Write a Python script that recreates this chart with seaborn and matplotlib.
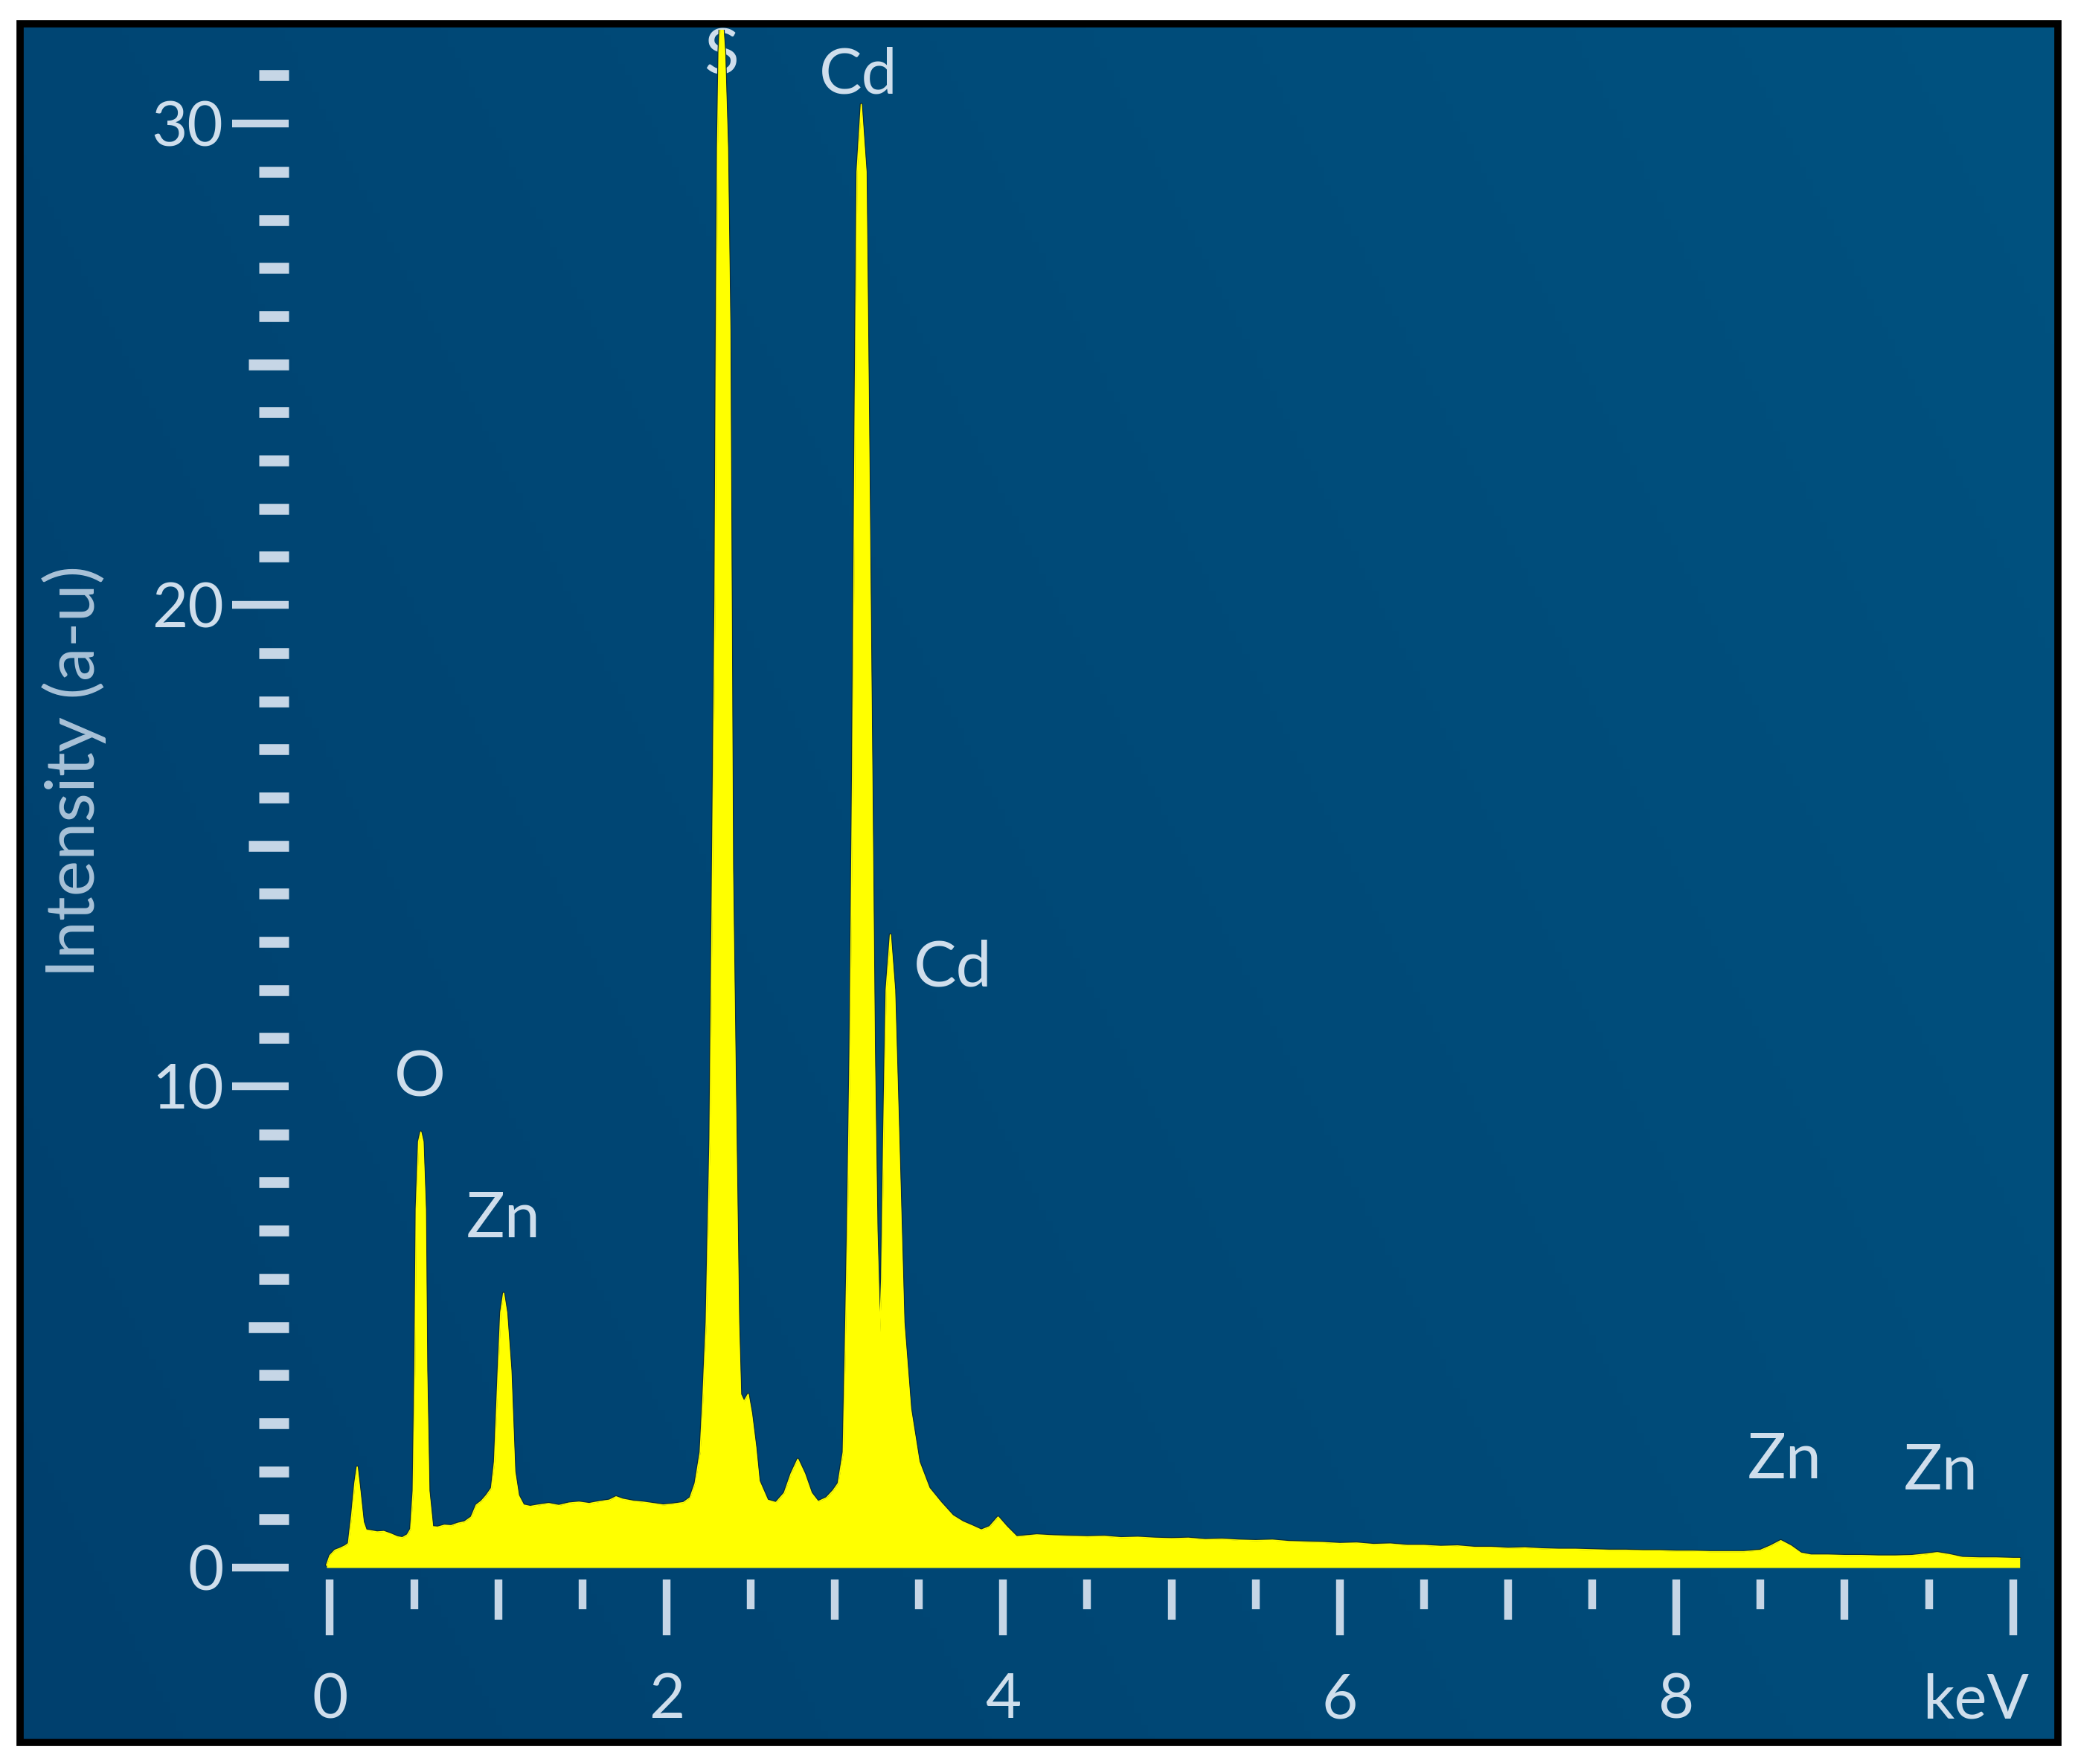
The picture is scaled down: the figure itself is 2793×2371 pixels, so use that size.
import numpy as np
import matplotlib
matplotlib.use("Agg")
import matplotlib.pyplot as plt
import matplotlib.transforms as mtransforms
from matplotlib.patches import Rectangle
import seaborn as sns

# ---------------- data ----------------
energy_kev = [
    -0.02, 0.00, 0.03, 0.06, 0.09, 0.11, 0.13, 0.148, 0.162, 0.178,
    0.198, 0.215, 0.25, 0.28, 0.32, 0.36, 0.40, 0.43, 0.46, 0.48,
    0.495, 0.505, 0.513, 0.527, 0.540, 0.553, 0.567, 0.575, 0.588, 0.61,
    0.64, 0.68, 0.72, 0.76, 0.80, 0.84, 0.87, 0.90, 0.93, 0.96,
    0.978, 1.000, 1.015, 1.032, 1.05, 1.075, 1.098, 1.12, 1.15, 1.19,
    1.24, 1.30, 1.36, 1.42, 1.48, 1.54, 1.60, 1.66, 1.70, 1.74,
    1.80, 1.86, 1.92, 1.98, 2.04, 2.10, 2.14, 2.17, 2.20, 2.215,
    2.236, 2.258, 2.273, 2.288, 2.296, 2.303, 2.312, 2.325, 2.345, 2.362,
    2.376, 2.384, 2.392, 2.413, 2.428, 2.44, 2.46, 2.485, 2.505, 2.53,
    2.55, 2.60, 2.65, 2.70, 2.74, 2.78, 2.82, 2.86, 2.90, 2.95,
    2.99, 3.02, 3.05, 3.062, 3.075, 3.09, 3.105, 3.12, 3.132, 3.157,
    3.185, 3.20, 3.22, 3.235, 3.25, 3.267, 3.278, 3.29, 3.305, 3.33,
    3.355, 3.38, 3.41, 3.45, 3.50, 3.56, 3.63, 3.70, 3.76, 3.82,
    3.87, 3.92, 3.97, 4.02, 4.08, 4.14, 4.20, 4.30, 4.40, 4.50,
    4.60, 4.70, 4.80, 4.90, 5.00, 5.10, 5.20, 5.30, 5.40, 5.50,
    5.60, 5.70, 5.80, 5.90, 6.00, 6.10, 6.20, 6.30, 6.40, 6.50,
    6.60, 6.70, 6.80, 6.90, 7.00, 7.10, 7.20, 7.30, 7.40, 7.50,
    7.60, 7.70, 7.80, 7.90, 8.00, 8.10, 8.20, 8.30, 8.40, 8.50,
    8.56, 8.62, 8.68, 8.74, 8.80, 8.90, 9.00, 9.10, 9.20, 9.30,
    9.40, 9.48, 9.55, 9.62, 9.70, 9.80, 9.90, 10.00, 10.04,
]
intensity = [
    0.05, 0.25, 0.36, 0.40, 0.45, 0.50, 1.10, 1.75, 2.09, 1.60,
    0.95, 0.78, 0.76, 0.74, 0.75, 0.70, 0.64, 0.62, 0.68, 0.80,
    1.60, 4.10, 7.45, 8.85, 9.05, 8.85, 7.45, 4.10, 1.60, 0.85,
    0.84, 0.88, 0.87, 0.92, 0.95, 1.05, 1.30, 1.38, 1.50, 1.65,
    2.20, 4.10, 5.30, 5.70, 5.30, 4.10, 2.00, 1.50, 1.30, 1.27,
    1.30, 1.33, 1.29, 1.34, 1.36, 1.33, 1.37, 1.40, 1.47, 1.42,
    1.38, 1.36, 1.33, 1.30, 1.32, 1.35, 1.45, 1.75, 2.40, 3.40,
    5.10, 8.90, 14.5, 20.1, 25.7, 29.5, 31.5, 32.5, 31.5, 29.5,
    25.7, 20.1, 14.5, 8.90, 5.10, 3.60, 3.45, 3.60, 3.20, 2.50,
    1.80, 1.40, 1.35, 1.55, 1.95, 2.25, 1.95, 1.55, 1.37, 1.45,
    1.60, 1.75, 2.40, 4.50, 7.00, 10.7, 16.4, 23.8, 29.0, 30.4,
    29.0, 23.8, 16.4, 10.7, 7.00, 4.90, 6.00, 8.90, 12.0, 13.15,
    12.0, 8.90, 5.10, 3.30, 2.20, 1.65, 1.35, 1.08, 0.95, 0.86,
    0.78, 0.85, 1.05, 0.85, 0.64, 0.66, 0.68, 0.66, 0.65, 0.64,
    0.65, 0.62, 0.63, 0.61, 0.60, 0.61, 0.58, 0.59, 0.57, 0.56,
    0.57, 0.54, 0.53, 0.52, 0.50, 0.51, 0.48, 0.49, 0.46, 0.46,
    0.44, 0.45, 0.42, 0.42, 0.40, 0.41, 0.39, 0.38, 0.38, 0.37,
    0.36, 0.36, 0.35, 0.35, 0.34, 0.34, 0.33, 0.33, 0.33, 0.36,
    0.45, 0.56, 0.45, 0.30, 0.26, 0.26, 0.25, 0.25, 0.24, 0.24,
    0.25, 0.28, 0.31, 0.27, 0.21, 0.20, 0.20, 0.19, 0.19,
]
assert len(energy_kev) == len(intensity)

peak_labels = ["S", "Cd", "Cd", "O", "Zn", "Zn", "Zn"]
peak_label_x = [2.327, 3.14, 3.70, 0.537, 1.03, 8.645, 9.57]
peak_label_y = [31.4, 31.0, 12.45, 10.17, 7.24, 2.23, 1.99]

y_major_ticks = [0, 10, 20, 30]
y_mid_ticks = [5, 15, 25]
y_minor_ticks = [1, 2, 3, 4, 6, 7, 8, 9, 11, 12, 13, 14, 16, 17, 18, 19,
                 21, 22, 23, 24, 26, 27, 28, 29, 31]
x_major_ticks = [0, 2, 4, 6, 8, 10]
x_major_labels = ["0", "2", "4", "6", "8", "keV"]
x_mid_ticks = [1, 3, 5, 7, 9]
x_minor_ticks = [0.5, 1.5, 2.5, 3.5, 4.5, 5.5, 6.5, 7.5, 8.5, 9.5]

# ---------------- style ----------------
YELLOW = "#ffff00"
TICK_C = "#c6d6e6"
TEXT_C = "#cfdeec"
YLAB_C = "#a9c2d8"

sns.set_theme(style="white")
plt.rcParams["font.family"] = ["Lato", "DejaVu Sans"]

W, H = 2793, 2371
DPI = 100
fig = plt.figure(figsize=(W / DPI, H / DPI), dpi=DPI, facecolor="white")

# background panel with subtle gradient and black frame
fl, ft, fr, fb = 27, 32, 2766, 2342
bg = fig.add_axes([fl / W, 1 - fb / H, (fr - fl) / W, (fb - ft) / H], zorder=0)
gx = np.linspace(0, 1, 300)[None, :]
gy = np.linspace(0, 1, 300)[:, None]  # 0 = top
c_left = np.array([0, 64, 110]) / 255
c_right = np.array([0, 82, 128]) / 255
mix = 0.7 * gx + 0.3 * (1 - gy)
img = c_left[None, None, :] * (1 - mix[..., None]) + c_right[None, None, :] * mix[..., None]
bg.imshow(img, extent=[0, 1, 0, 1], aspect="auto", origin="upper")
bg.set_xlim(0, 1)
bg.set_ylim(0, 1)
bg.axis("off")
bg.add_patch(Rectangle((0, 0), 1, 1, transform=bg.transAxes, fill=False,
                       edgecolor="black", linewidth=7, clip_on=False))

# main axes
ax_l, ax_r, ax_t, ax_b = 388, 2717, 40, 2123
ax = fig.add_axes([ax_l / W, 1 - ax_b / H, (ax_r - ax_l) / W, (ax_b - ax_t) / H], zorder=1)
ax.set_facecolor("none")

ax.fill_between(energy_kev, intensity, 0, color=YELLOW, linewidth=0, zorder=2)
sns.lineplot(x=energy_kev, y=intensity, ax=ax, color="#0b2c3a", linewidth=3.0,
             estimator=None, sort=False, zorder=1.5)
sns.lineplot(x=energy_kev, y=intensity, ax=ax, color=YELLOW, linewidth=1.2,
             estimator=None, sort=False, zorder=3)

ax.set_xlim(-0.245, 10.05)
ax.set_ylim(-0.247, 31.95)
for s in ax.spines.values():
    s.set_visible(False)

FS = 60
# y ticks
ax.set_yticks(y_major_ticks)
ax.set_yticklabels([str(v) for v in y_major_ticks])
ax.set_yticks(y_minor_ticks, minor=True)
ax.tick_params(axis="y", which="major", direction="out", length=55, width=7.5,
               color=TICK_C, labelcolor=TEXT_C, labelsize=FS, pad=8, left=True)
ax.tick_params(axis="y", which="minor", direction="out", length=29, width=10.5,
               color=TICK_C, left=True)
sy = ax.secondary_yaxis("left")
sy.set_yticks(y_mid_ticks)
sy.set_yticklabels([])
sy.tick_params(axis="y", direction="out", length=39, width=10.5, color=TICK_C)
for s in sy.spines.values():
    s.set_visible(False)

# x ticks
ax.set_xticks(x_major_ticks)
ax.set_xticklabels(x_major_labels)
ax.set_xticks(x_minor_ticks, minor=True)
ax.tick_params(axis="x", which="major", direction="out", length=54, width=7.5,
               color=TICK_C, labelcolor=TEXT_C, labelsize=FS, pad=36, bottom=True)
ax.tick_params(axis="x", which="minor", direction="out", length=29, width=7.5,
               color=TICK_C, bottom=True)
sx = ax.secondary_xaxis("bottom")
sx.set_xticks(x_mid_ticks)
sx.set_xticklabels([])
sx.tick_params(axis="x", direction="out", length=39, width=7.5, color=TICK_C)
for s in sx.spines.values():
    s.set_visible(False)

offset = mtransforms.ScaledTranslation(-0.5, 0, fig.dpi_scale_trans)
last = ax.get_xticklabels()[-1]
last.set_transform(last.get_transform() + offset)

ax.set_xlabel("")
ax.set_ylabel("Intensity (a-u)", color=YLAB_C, fontsize=FS + 6, va="center")
ax.yaxis.set_label_coords(-0.1237, 0.5216)

for lab, lx, ly in zip(peak_labels, peak_label_x, peak_label_y):
    ax.text(lx, ly, lab, ha="center", va="center", color=TEXT_C, fontsize=FS + 2,
            zorder=1, clip_on=False)

fig.savefig("out.png", dpi=DPI, facecolor="white")
